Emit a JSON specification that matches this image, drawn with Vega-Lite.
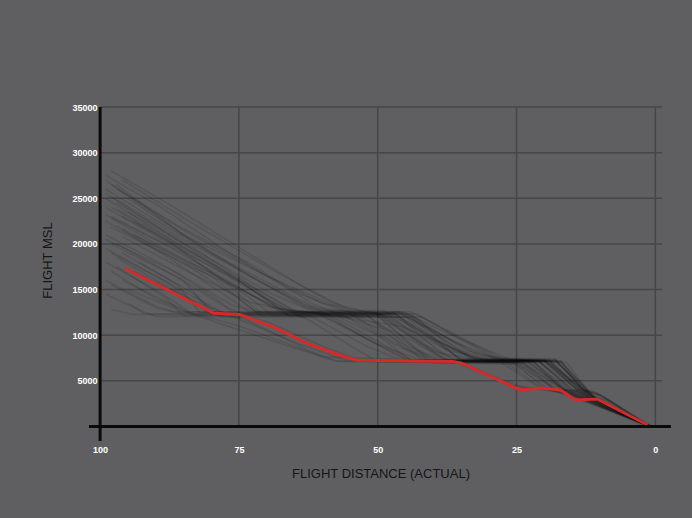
{
  "$schema": "https://vega.github.io/schema/vega-lite/v6.json",
  "autosize": {"type": "none"},
  "padding": {"left": 89, "top": 107, "right": 20, "bottom": 77},
  "width": 583,
  "height": 334,
  "background": "#5f5f61",
  "config": {"view": {"stroke": null}, "font": "Liberation Sans"},
  "datasets": {
    "hgrid": [
      {"a": 5000, "d": 100, "d2": -1.2},
      {"a": 10000, "d": 100, "d2": -1.2},
      {"a": 15000, "d": 100, "d2": -1.2},
      {"a": 20000, "d": 100, "d2": -1.2},
      {"a": 25000, "d": 100, "d2": -1.2},
      {"a": 30000, "d": 100, "d2": -1.2},
      {"a": 35000, "d": 100, "d2": -1.2}
    ],
    "vgrid": [
      {"d": 75, "a": 0, "a2": 35000},
      {"d": 50, "a": 0, "a2": 35000},
      {"d": 25, "a": 0, "a2": 35000},
      {"d": 0, "a": 0, "a2": 35000}
    ],
    "xaxisline": [{"a": 0, "d": 102, "d2": -2.8}],
    "yaxisline": [{"d": 100, "a": -1600, "a2": 35000}],
    "red": [
      {"d": 95.5, "a": 17300}, {"d": 79.5, "a": 12400}, {"d": 74.8, "a": 12250},
      {"d": 68.8, "a": 10900}, {"d": 62.7, "a": 9100}, {"d": 56.8, "a": 7800},
      {"d": 53.7, "a": 7250}, {"d": 36.5, "a": 7100}, {"d": 35, "a": 6950},
      {"d": 24.3, "a": 4000}, {"d": 20.7, "a": 4200}, {"d": 17.1, "a": 4000},
      {"d": 14.4, "a": 2900}, {"d": 10.5, "a": 3000}, {"d": 1.4, "a": 150}
    ],
    "flights": [
      {"f":1,"d":99,"a":27000},{"f":1,"d":85,"a":21000},{"f":1,"d":70,"a":16500},{"f":1,"d":60,"a":13500},{"f":1,"d":52,"a":12500},{"f":1,"d":46,"a":12500},{"f":1,"d":32,"a":7200},{"f":1,"d":20,"a":7200},{"f":1,"d":12,"a":3500},{"f":1,"d":1,"a":0},
      {"f":2,"d":99,"a":25500},{"f":2,"d":90,"a":22000},{"f":2,"d":75,"a":16000},{"f":2,"d":66,"a":12100},{"f":2,"d":47,"a":12100},{"f":2,"d":34,"a":7000},{"f":2,"d":19,"a":7000},{"f":2,"d":13,"a":3200},{"f":2,"d":9,"a":3000},{"f":2,"d":1,"a":0},
      {"f":3,"d":98,"a":24000},{"f":3,"d":88,"a":20500},{"f":3,"d":77,"a":15500},{"f":3,"d":71,"a":12400},{"f":3,"d":46,"a":12400},{"f":3,"d":30,"a":7400},{"f":3,"d":18,"a":7300},{"f":3,"d":11,"a":3000},{"f":3,"d":1,"a":0},
      {"f":4,"d":98,"a":23000},{"f":4,"d":85,"a":19000},{"f":4,"d":74,"a":14500},{"f":4,"d":69,"a":12200},{"f":4,"d":48,"a":12200},{"f":4,"d":36,"a":7100},{"f":4,"d":22,"a":7100},{"f":4,"d":16,"a":4000},{"f":4,"d":11,"a":3800},{"f":4,"d":0.5,"a":0},
      {"f":5,"d":97,"a":22000},{"f":5,"d":80,"a":16500},{"f":5,"d":74,"a":13500},{"f":5,"d":72,"a":12600},{"f":5,"d":45,"a":12500},{"f":5,"d":33,"a":7300},{"f":5,"d":17,"a":7200},{"f":5,"d":12,"a":3000},{"f":5,"d":1,"a":0},
      {"f":6,"d":99,"a":21000},{"f":6,"d":88,"a":17500},{"f":6,"d":78,"a":13500},{"f":6,"d":76,"a":12300},{"f":6,"d":49,"a":12300},{"f":6,"d":38,"a":7250},{"f":6,"d":21,"a":7200},{"f":6,"d":14,"a":3500},{"f":6,"d":2,"a":0},
      {"f":7,"d":98,"a":20000},{"f":7,"d":85,"a":16000},{"f":7,"d":80,"a":12500},{"f":7,"d":78,"a":12000},{"f":7,"d":44,"a":12000},{"f":7,"d":35,"a":7200},{"f":7,"d":25,"a":7000},{"f":7,"d":18,"a":4000},{"f":7,"d":13,"a":3800},{"f":7,"d":1,"a":0},
      {"f":8,"d":96,"a":19000},{"f":8,"d":86,"a":15500},{"f":8,"d":82,"a":12450},{"f":8,"d":47,"a":12450},{"f":8,"d":37,"a":7100},{"f":8,"d":20,"a":7050},{"f":8,"d":12,"a":3000},{"f":8,"d":1,"a":0},
      {"f":9,"d":97,"a":17500},{"f":9,"d":88,"a":14000},{"f":9,"d":85,"a":12150},{"f":9,"d":50,"a":12150},{"f":9,"d":40,"a":7000},{"f":9,"d":24,"a":6900},{"f":9,"d":17,"a":4200},{"f":9,"d":12,"a":2800},{"f":9,"d":1,"a":0},
      {"f":10,"d":95,"a":13500},{"f":10,"d":92,"a":12350},{"f":10,"d":55,"a":12350},{"f":10,"d":48,"a":9500},{"f":10,"d":40,"a":7000},{"f":10,"d":23,"a":7000},{"f":10,"d":15,"a":3500},{"f":10,"d":1,"a":0},
      {"f":11,"d":98,"a":12800},{"f":11,"d":94,"a":12250},{"f":11,"d":60,"a":12200},{"f":11,"d":50,"a":9000},{"f":11,"d":42,"a":7200},{"f":11,"d":26,"a":7000},{"f":11,"d":19,"a":4000},{"f":11,"d":13,"a":3500},{"f":11,"d":1,"a":0},
      {"f":12,"d":97,"a":26000},{"f":12,"d":85,"a":21500},{"f":12,"d":70,"a":16500},{"f":12,"d":55,"a":12500},{"f":12,"d":45,"a":9800},{"f":12,"d":38,"a":7300},{"f":12,"d":20,"a":7300},{"f":12,"d":10,"a":2800},{"f":12,"d":1,"a":0},
      {"f":13,"d":95,"a":25000},{"f":13,"d":80,"a":19000},{"f":13,"d":66,"a":14500},{"f":13,"d":55,"a":11000},{"f":13,"d":44,"a":7300},{"f":13,"d":21,"a":7100},{"f":13,"d":15,"a":4000},{"f":13,"d":11,"a":3000},{"f":13,"d":1,"a":0},
      {"f":14,"d":96,"a":23000},{"f":14,"d":82,"a":18500},{"f":14,"d":70,"a":14000},{"f":14,"d":62,"a":11500},{"f":14,"d":54,"a":8500},{"f":14,"d":50,"a":7100},{"f":14,"d":24,"a":7000},{"f":14,"d":18,"a":4000},{"f":14,"d":13,"a":4000},{"f":14,"d":1,"a":0},
      {"f":15,"d":99,"a":19500},{"f":15,"d":87,"a":15500},{"f":15,"d":78,"a":12500},{"f":15,"d":70,"a":11500},{"f":15,"d":60,"a":8800},{"f":15,"d":53,"a":7200},{"f":15,"d":27,"a":7100},{"f":15,"d":20,"a":4000},{"f":15,"d":14,"a":3500},{"f":15,"d":1,"a":0},
      {"f":16,"d":94,"a":17000},{"f":16,"d":84,"a":14000},{"f":16,"d":74,"a":11500},{"f":16,"d":64,"a":9000},{"f":16,"d":56,"a":7300},{"f":16,"d":35,"a":7100},{"f":16,"d":26,"a":4500},{"f":16,"d":18,"a":3800},{"f":16,"d":12,"a":3000},{"f":16,"d":1,"a":0},
      {"f":17,"d":99,"a":27500},{"f":17,"d":89,"a":24000},{"f":17,"d":78,"a":19500},{"f":17,"d":66,"a":15000},{"f":17,"d":56,"a":12600},{"f":17,"d":44,"a":12550},{"f":17,"d":28,"a":7300},{"f":17,"d":18,"a":7200},{"f":17,"d":12,"a":3800},{"f":17,"d":9,"a":3200},{"f":17,"d":1,"a":0},
      {"f":18,"d":98,"a":26500},{"f":18,"d":86,"a":22000},{"f":18,"d":72,"a":17500},{"f":18,"d":62,"a":13500},{"f":18,"d":56,"a":12000},{"f":18,"d":42,"a":12000},{"f":18,"d":27,"a":7200},{"f":18,"d":17,"a":7000},{"f":18,"d":11,"a":3200},{"f":18,"d":1,"a":0},
      {"f":19,"d":97,"a":24500},{"f":19,"d":83,"a":19500},{"f":19,"d":73,"a":15500},{"f":19,"d":64,"a":12350},{"f":19,"d":43,"a":12350},{"f":19,"d":29,"a":7400},{"f":19,"d":19,"a":7300},{"f":19,"d":13,"a":3600},{"f":19,"d":0.5,"a":0},
      {"f":20,"d":99,"a":22500},{"f":20,"d":89,"a":19000},{"f":20,"d":79,"a":15000},{"f":20,"d":73,"a":12500},{"f":20,"d":47,"a":12450},{"f":20,"d":35,"a":7300},{"f":20,"d":21,"a":7200},{"f":20,"d":14,"a":4000},{"f":20,"d":10,"a":3500},{"f":20,"d":1,"a":0},
      {"f":21,"d":96,"a":21500},{"f":21,"d":84,"a":17500},{"f":21,"d":75,"a":14000},{"f":21,"d":71,"a":12100},{"f":21,"d":50,"a":12100},{"f":21,"d":41,"a":7300},{"f":21,"d":23,"a":7200},{"f":21,"d":16,"a":3800},{"f":21,"d":11,"a":3600},{"f":21,"d":1,"a":0},
      {"f":22,"d":93,"a":18000},{"f":22,"d":83,"a":14500},{"f":22,"d":79,"a":12300},{"f":22,"d":52,"a":12250},{"f":22,"d":45,"a":8500},{"f":22,"d":39,"a":7200},{"f":22,"d":24,"a":7100},{"f":22,"d":16,"a":3900},{"f":22,"d":12,"a":3100},{"f":22,"d":1,"a":0},
      {"f":23,"d":98,"a":15500},{"f":23,"d":90,"a":13000},{"f":23,"d":87,"a":12550},{"f":23,"d":57,"a":12500},{"f":23,"d":47,"a":9000},{"f":23,"d":41,"a":7200},{"f":23,"d":22,"a":7100},{"f":23,"d":14,"a":3300},{"f":23,"d":1,"a":0},
      {"f":24,"d":99,"a":14500},{"f":24,"d":93,"a":12800},{"f":24,"d":90,"a":12050},{"f":24,"d":62,"a":12050},{"f":24,"d":52,"a":8800},{"f":24,"d":46,"a":7300},{"f":24,"d":25,"a":7100},{"f":24,"d":17,"a":3800},{"f":24,"d":1,"a":0},
      {"f":25,"d":96,"a":16000},{"f":25,"d":84,"a":12500},{"f":25,"d":75,"a":11000},{"f":25,"d":65,"a":8800},{"f":25,"d":58,"a":7200},{"f":25,"d":40,"a":7000},{"f":25,"d":25,"a":6800},{"f":25,"d":20,"a":4200},{"f":25,"d":14,"a":3000},{"f":25,"d":1,"a":0},
      {"f":26,"d":97,"a":18500},{"f":26,"d":87,"a":15000},{"f":26,"d":80,"a":12300},{"f":26,"d":74,"a":11800},{"f":26,"d":62,"a":8200},{"f":26,"d":57,"a":7100},{"f":26,"d":36,"a":7000},{"f":26,"d":24,"a":4300},{"f":26,"d":17,"a":4000},{"f":26,"d":12,"a":2800},{"f":26,"d":1,"a":0},
      {"f":27,"d":99,"a":25000},{"f":27,"d":86,"a":20000},{"f":27,"d":75,"a":16000},{"f":27,"d":68,"a":13000},{"f":27,"d":60,"a":12300},{"f":27,"d":46,"a":11000},{"f":27,"d":36,"a":8500},{"f":27,"d":30,"a":7300},{"f":27,"d":17,"a":7100},{"f":27,"d":11,"a":3300},{"f":27,"d":1,"a":0},
      {"f":28,"d":98,"a":28000},{"f":28,"d":88,"a":24500},{"f":28,"d":76,"a":20000},{"f":28,"d":64,"a":15500},{"f":28,"d":54,"a":12400},{"f":28,"d":45,"a":12400},{"f":28,"d":36,"a":9800},{"f":28,"d":26,"a":7300},{"f":28,"d":18,"a":7200},{"f":28,"d":12,"a":3400},{"f":28,"d":1,"a":0},
      {"f":29,"d":95,"a":23500},{"f":29,"d":82,"a":19000},{"f":29,"d":69,"a":14500},{"f":29,"d":60,"a":12200},{"f":29,"d":49,"a":12200},{"f":29,"d":38,"a":8500},{"f":29,"d":31,"a":7300},{"f":29,"d":19,"a":7200},{"f":29,"d":13,"a":4000},{"f":29,"d":10,"a":3500},{"f":29,"d":1,"a":0},
      {"f":30,"d":99,"a":20500},{"f":30,"d":86,"a":16800},{"f":30,"d":76,"a":13200},{"f":30,"d":72,"a":12650},{"f":30,"d":46,"a":12600},{"f":30,"d":32,"a":7800},{"f":30,"d":24,"a":7300},{"f":30,"d":16,"a":7000},{"f":30,"d":11,"a":3000},{"f":30,"d":1,"a":0},
      {"f":31,"d":97,"a":26500},{"f":31,"d":85,"a":21000},{"f":31,"d":73,"a":16500},{"f":31,"d":63,"a":13200},{"f":31,"d":52,"a":12300},{"f":31,"d":46,"a":12300},{"f":31,"d":37,"a":9500},{"f":31,"d":28,"a":7200},{"f":31,"d":20,"a":7200},{"f":31,"d":14,"a":4200},{"f":31,"d":11,"a":3800},{"f":31,"d":1,"a":0},
      {"f":32,"d":98,"a":22800},{"f":32,"d":87,"a":19000},{"f":32,"d":76,"a":15500},{"f":32,"d":68,"a":12800},{"f":32,"d":58,"a":12300},{"f":32,"d":48,"a":10500},{"f":32,"d":42,"a":7300},{"f":32,"d":21,"a":7200},{"f":32,"d":15,"a":3800},{"f":32,"d":1,"a":0},
      {"f":33,"d":96,"a":20800},{"f":33,"d":85,"a":17200},{"f":33,"d":73,"a":13600},{"f":33,"d":64,"a":12450},{"f":33,"d":50,"a":12450},{"f":33,"d":40,"a":8200},{"f":33,"d":33,"a":7300},{"f":33,"d":20,"a":7200},{"f":33,"d":13,"a":3500},{"f":33,"d":1,"a":0},
      {"f":34,"d":99,"a":24000},{"f":34,"d":84,"a":18800},{"f":34,"d":72,"a":15000},{"f":34,"d":66,"a":12150},{"f":34,"d":48,"a":12150},{"f":34,"d":38,"a":7400},{"f":34,"d":20,"a":7300},{"f":34,"d":12,"a":3600},{"f":34,"d":1,"a":0},
      {"f":35,"d":94,"a":21000},{"f":35,"d":80,"a":16800},{"f":35,"d":70,"a":13500},{"f":35,"d":67,"a":12350},{"f":35,"d":44,"a":12350},{"f":35,"d":36,"a":8200},{"f":35,"d":30,"a":7200},{"f":35,"d":19,"a":7100},{"f":35,"d":12,"a":3200},{"f":35,"d":1,"a":0},
      {"f":36,"d":98,"a":17000},{"f":36,"d":90,"a":14000},{"f":36,"d":83,"a":12250},{"f":36,"d":58,"a":12200},{"f":36,"d":50,"a":10000},{"f":36,"d":44,"a":7200},{"f":36,"d":22,"a":7000},{"f":36,"d":16,"a":3600},{"f":36,"d":1,"a":0},
      {"f":37,"d":99,"a":26000},{"f":37,"d":87,"a":21500},{"f":37,"d":74,"a":16800},{"f":37,"d":63,"a":13000},{"f":37,"d":55,"a":12350},{"f":37,"d":47,"a":12300},{"f":37,"d":38,"a":8800},{"f":37,"d":31,"a":7300},{"f":37,"d":19,"a":7150},{"f":37,"d":13,"a":3700},{"f":37,"d":1,"a":0},
      {"f":38,"d":98,"a":19000},{"f":38,"d":88,"a":15800},{"f":38,"d":81,"a":12700},{"f":38,"d":77,"a":12400},{"f":38,"d":55,"a":12400},{"f":38,"d":46,"a":9200},{"f":38,"d":39,"a":7200},{"f":38,"d":23,"a":7100},{"f":38,"d":15,"a":3600},{"f":38,"d":1,"a":0},
      {"f":39,"d":97,"a":23800},{"f":39,"d":86,"a":20000},{"f":39,"d":74,"a":15800},{"f":39,"d":65,"a":12600},{"f":39,"d":51,"a":12600},{"f":39,"d":42,"a":9000},{"f":39,"d":36,"a":7400},{"f":39,"d":18,"a":7300},{"f":39,"d":12,"a":3300},{"f":39,"d":1,"a":0},
      {"f":40,"d":99,"a":18000},{"f":40,"d":89,"a":14600},{"f":40,"d":84,"a":12600},{"f":40,"d":60,"a":12500},{"f":40,"d":52,"a":9600},{"f":40,"d":45,"a":7300},{"f":40,"d":26,"a":7200},{"f":40,"d":18,"a":4000},{"f":40,"d":14,"a":3400},{"f":40,"d":1,"a":0},
      {"f":41,"d":96,"a":27000},{"f":41,"d":84,"a":22500},{"f":41,"d":70,"a":17500},{"f":41,"d":58,"a":13500},{"f":41,"d":50,"a":12200},{"f":41,"d":44,"a":12200},{"f":41,"d":34,"a":8300},{"f":41,"d":27,"a":7300},{"f":41,"d":18,"a":7150},{"f":41,"d":12,"a":3600},{"f":41,"d":1,"a":0},
      {"f":42,"d":98,"a":21800},{"f":42,"d":84,"a":17600},{"f":42,"d":72,"a":14200},{"f":42,"d":66,"a":12500},{"f":42,"d":50,"a":12450},{"f":42,"d":42,"a":8800},{"f":42,"d":37,"a":7100},{"f":42,"d":21,"a":7050},{"f":42,"d":14,"a":3700},{"f":42,"d":1,"a":0},
      {"f":43,"d":95,"a":15000},{"f":43,"d":86,"a":12800},{"f":43,"d":78,"a":11200},{"f":43,"d":68,"a":9200},{"f":43,"d":60,"a":7600},{"f":43,"d":42,"a":7300},{"f":43,"d":28,"a":7100},{"f":43,"d":21,"a":4300},{"f":43,"d":15,"a":3400},{"f":43,"d":1,"a":0},
      {"f":44,"d":99,"a":23200},{"f":44,"d":88,"a":19800},{"f":44,"d":77,"a":16000},{"f":44,"d":69,"a":13000},{"f":44,"d":61,"a":12400},{"f":44,"d":47,"a":12350},{"f":44,"d":38,"a":9000},{"f":44,"d":32,"a":7250},{"f":44,"d":20,"a":7200},{"f":44,"d":13,"a":3400},{"f":44,"d":1,"a":0},
      {"f":45,"d":97,"a":20000},{"f":45,"d":86,"a":16300},{"f":45,"d":78,"a":13300},{"f":45,"d":74,"a":12200},{"f":45,"d":52,"a":12200},{"f":45,"d":43,"a":8400},{"f":45,"d":38,"a":7200},{"f":45,"d":22,"a":7200},{"f":45,"d":16,"a":3700},{"f":45,"d":1,"a":0},
      {"f":46,"d":98,"a":25200},{"f":46,"d":85,"a":20500},{"f":46,"d":71,"a":15800},{"f":46,"d":61,"a":12700},{"f":46,"d":49,"a":12700},{"f":46,"d":40,"a":9600},{"f":46,"d":33,"a":7500},{"f":46,"d":18,"a":7400},{"f":46,"d":12,"a":3500},{"f":46,"d":1,"a":0},
      {"f":47,"d":94,"a":22500},{"f":47,"d":82,"a":18200},{"f":47,"d":71,"a":14300},{"f":47,"d":64,"a":12000},{"f":47,"d":45,"a":12000},{"f":47,"d":36,"a":7800},{"f":47,"d":29,"a":7200},{"f":47,"d":17,"a":7100},{"f":47,"d":11,"a":3100},{"f":47,"d":1,"a":0},
      {"f":48,"d":99,"a":16000},{"f":48,"d":90,"a":13200},{"f":48,"d":86,"a":12450},{"f":48,"d":61,"a":12400},{"f":48,"d":51,"a":9300},{"f":48,"d":44,"a":7150},{"f":48,"d":24,"a":7000},{"f":48,"d":17,"a":4100},{"f":48,"d":13,"a":3600},{"f":48,"d":1,"a":0}
    ]
  },
  "encoding": {
    "x": {
      "field": "d", "type": "quantitative",
      "scale": {"domain": [-3, 102], "reverse": true, "nice": false, "zero": false},
      "axis": {
        "values": [100, 75, 50, 25, 0], "format": "d",
        "domain": false, "ticks": false, "grid": false,
        "labelColor": "#ffffff", "labelFontSize": 9, "labelFontWeight": "bold",
        "labelPadding": 4, "labelFlush": false, "labelOverlap": false,
        "title": "FLIGHT DISTANCE (ACTUAL)", "titleFontSize": 13, "titleFontWeight": "normal",
        "titleColor": "#151515", "titleY": 32, "titleBaseline": "middle"
      }
    },
    "y": {
      "field": "a", "type": "quantitative",
      "scale": {"domain": [-1600, 35000], "nice": false, "zero": false},
      "axis": {
        "values": [5000, 10000, 15000, 20000, 25000, 30000, 35000], "format": "d",
        "domain": false, "ticks": false, "grid": false,
        "labelColor": "#ffffff", "labelFontSize": 9, "labelFontWeight": "bold",
        "labelPadding": -8, "labelFlush": false, "labelOverlap": false,
        "title": "FLIGHT MSL", "titleFontSize": 13, "titleFontWeight": "normal",
        "titleColor": "#151515", "titleX": -42, "titleY": 153,
        "titleAlign": "center", "titleBaseline": "middle", "titleAngle": -90
      }
    }
  },
  "layer": [
    {
      "data": {"name": "hgrid"},
      "mark": {"type": "rule", "color": "#464648", "strokeWidth": 1.5},
      "encoding": {"x2": {"field": "d2"}}
    },
    {
      "data": {"name": "vgrid"},
      "mark": {"type": "rule", "color": "#464648", "strokeWidth": 1.5},
      "encoding": {"y2": {"field": "a2"}}
    },
    {
      "data": {"name": "flights"},
      "mark": {"type": "line", "color": "#0a0a0a", "strokeWidth": 1.5, "opacity": 0.11},
      "encoding": {"detail": {"field": "f", "type": "nominal"}}
    },
    {
      "data": {"name": "red"},
      "mark": {"type": "line", "color": "#d42a2a", "strokeWidth": 3},
      "encoding": {}
    },
    {
      "data": {"name": "xaxisline"},
      "mark": {"type": "rule", "color": "#0a0a0a", "strokeWidth": 3},
      "encoding": {"x2": {"field": "d2"}}
    },
    {
      "data": {"name": "yaxisline"},
      "mark": {"type": "rule", "color": "#0a0a0a", "strokeWidth": 3},
      "encoding": {"y2": {"field": "a2"}}
    }
  ]
}
